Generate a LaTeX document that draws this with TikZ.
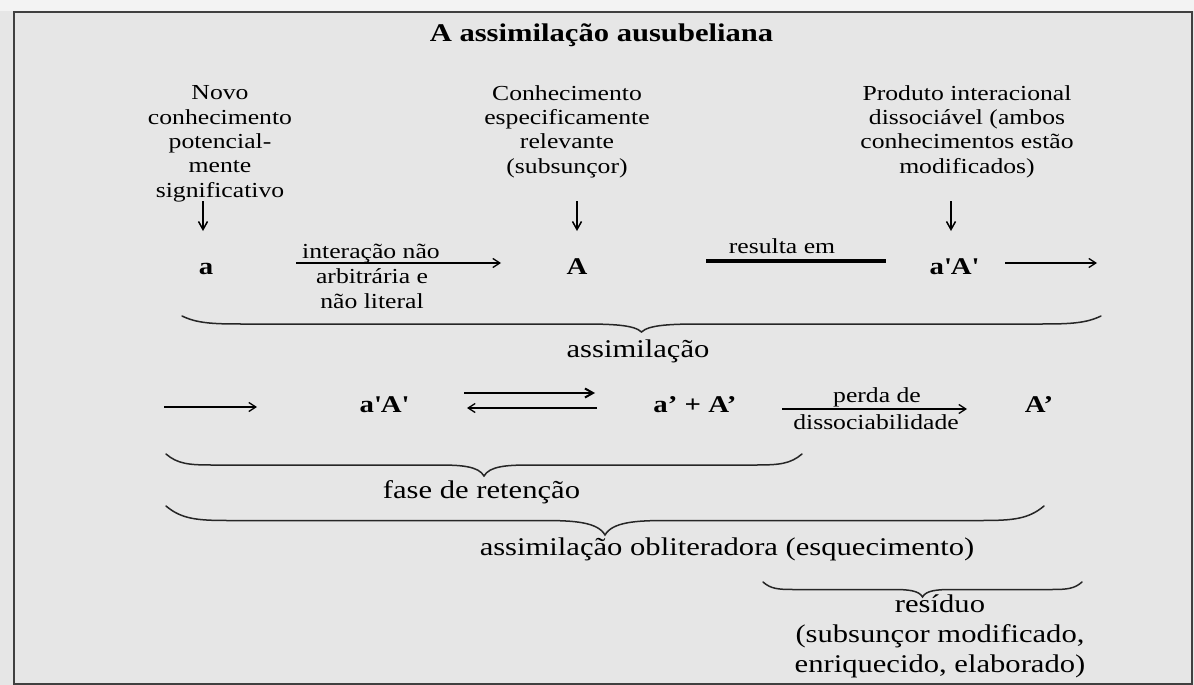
\documentclass[tikz,border=0pt]{standalone}
\usepackage{fontspec}
\setmainfont{Liberation Serif}[FakeStretch=1.2]
\usetikzlibrary{arrows.meta}
\definecolor{bg}{HTML}{E6E6E6}
\definecolor{topstrip}{HTML}{F3F3F3}
\definecolor{framec}{HTML}{404040}
\newcommand{\curlybrace}[5]{%
  \draw[brc] (#1,#3) .. controls ({#1+0.25*#5},{#3+0.45*#4}) and ({#1+0.5*#5},{#3+0.5*#4}) .. ({#1+#5},{#3+0.5*#4})
  -- ({(#1+#2)/2-#5},{#3+0.5*#4}) .. controls ({(#1+#2)/2-0.5*#5},{#3+0.5*#4}) and ({(#1+#2)/2-0.12*#5},{#3+0.55*#4}) .. ({(#1+#2)/2},{#3+#4})
  .. controls ({(#1+#2)/2+0.12*#5},{#3+0.55*#4}) and ({(#1+#2)/2+0.5*#5},{#3+0.5*#4}) .. ({(#1+#2)/2+#5},{#3+0.5*#4})
  -- ({#2-#5},{#3+0.5*#4}) .. controls ({#2-0.5*#5},{#3+0.5*#4}) and ({#2-0.25*#5},{#3+0.45*#4}) .. (#2,#3);}
\tikzset{
  txt/.style={inner sep=0pt, anchor=base, align=center, text=black},
  lbl/.style={txt, font=\fontsize{21.4}{24.3}\selectfont},
  big/.style={txt, font=\fontsize{25.5}{30}\selectfont},
  bld/.style={txt, font=\bfseries\fontsize{24}{26}\selectfont},
  ttl/.style={txt, font=\bfseries\fontsize{25.5}{28}\selectfont},
  arr/.style={line width=1.3pt, -{Straight Barb[length=7pt,width=9pt,line width=1.3pt]}},
  darr/.style={line width=1.5pt, -{Straight Barb[length=8pt,width=9pt,line width=1.5pt]}},
  thk/.style={line width=2.2pt, -{Straight Barb[length=8pt,width=9pt,line width=2pt]}},
  brc/.style={line width=1.5pt, line cap=round, color=black!85},
}
\begin{document}
\begin{tikzpicture}[x=1pt,y=-1pt]
\useasboundingbox (0,0) rectangle (1194,685);
\fill[bg] (0,0) rectangle (1194,685);
\fill[topstrip] (0,0) rectangle (1194,11);
\draw[line width=2pt, framec] (14,12) rectangle (1192,684);

\node[ttl] (title) at (601.5,42) {A assimilação ausubeliana};

% multi-line nodes: base anchor = baseline of the last line
\node[lbl] (novo) at (220,197) {Novo\\conhecimento\\potencial-\\mente\\significativo};
\node[lbl] (conh) at (567,173) {Conhecimento\\especificamente\\relevante\\(subsunçor)};
\node[lbl] (prod) at (967,173) {Produto interacional\\dissociável (ambos\\conhecimentos estão\\modificados)};

\node[bld] (a) at (206,274) {a};
\node[bld] (A) at (577,274) {A};
\node[bld] (aA1) at (954,274) {a\textquotesingle A\textquotesingle};

\coordinate (d1s) at (203,201); \coordinate (d1e) at (203,231);
\coordinate (d2s) at (577,201); \coordinate (d2e) at (577,231);
\coordinate (d3s) at (951,201); \coordinate (d3e) at (951,231);
\draw[darr] (d1s) -- (d1e);
\draw[darr] (d2s) -- (d2e);
\draw[darr] (d3s) -- (d3e);

\coordinate (i1) at (296,263); \coordinate (i2) at (501,263);
\draw[arr] (i1) -- (i2);
\node[lbl] (inter) at (371,258) {interação não};
\node[lbl] (arbit) at (372,308) {arbitrária e\\não literal};

\coordinate (r1) at (706,261); \coordinate (r2) at (886,261);
\draw[line width=4pt] (r1) -- (r2);
\node[lbl] (result) at (782,253) {resulta em};

\coordinate (o1) at (1005,263); \coordinate (o2) at (1097,263);
\draw[arr] (o1) -- (o2);

\curlybrace{182}{1101}{316}{16}{60}
\node[big] (assim) at (638,357) {assimilação};

\coordinate (p1) at (164,407); \coordinate (p2) at (257,407);
\draw[arr] (p1) -- (p2);
\node[bld] (aA2) at (384,412) {a\textquotesingle A\textquotesingle};
\coordinate (t1) at (464,393); \coordinate (t2) at (595,393);
\draw[thk] (t1) -- (t2);
\coordinate (b1) at (597,408); \coordinate (b2) at (467,408);
\draw[arr] (b1) -- (b2);
\node[bld] (aplus) at (695,412) {a’ + A’};
\coordinate (q1) at (782,409); \coordinate (q2) at (967,409);
\draw[arr] (q1) -- (q2);
\node[lbl] (perda) at (877,402) {perda de};
\node[lbl] (dissoc) at (876,429) {dissociabilidade};
\node[bld] (Ap) at (1039,412) {A’};

\curlybrace{166}{802}{454}{22}{46}
\node[big] (fase) at (481.5,498) {fase de retenção};

\curlybrace{166}{1044}{506}{29}{62}
\node[big] (oblit) at (727,555) {assimilação obliteradora (esquecimento)};

\curlybrace{763}{1082}{582}{15}{30}
\node[big] (resid) at (940,672) {resíduo\\(subsunçor modificado,\\enriquecido, elaborado)};
\end{tikzpicture}
\end{document}
